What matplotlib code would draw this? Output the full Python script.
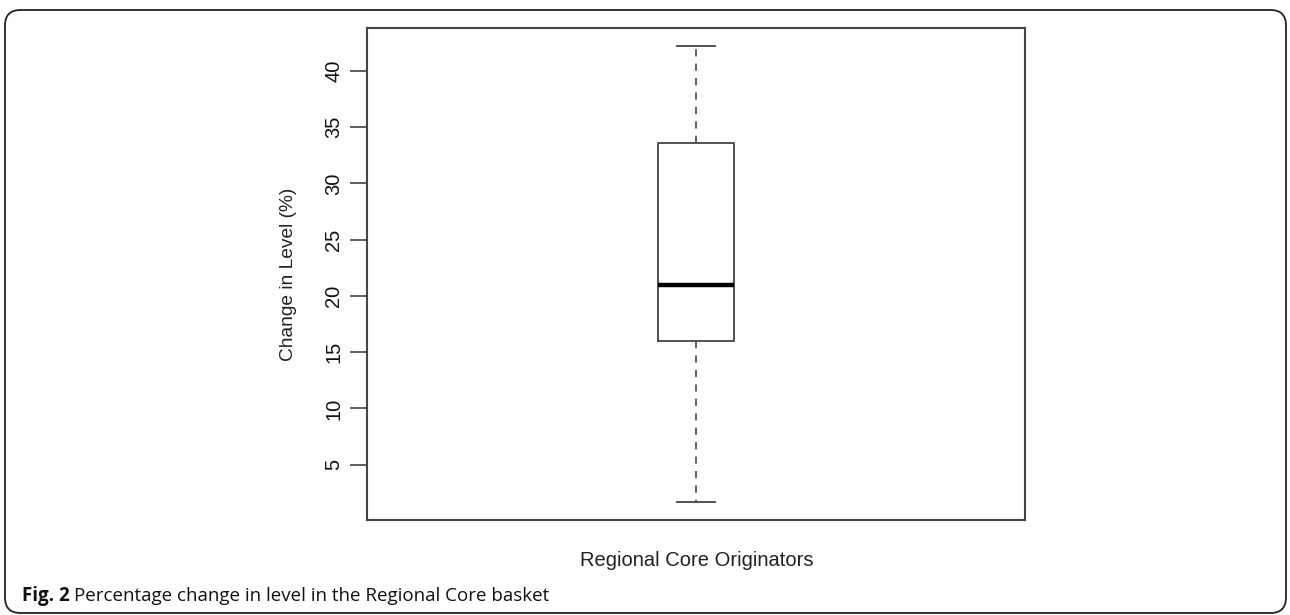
import matplotlib
matplotlib.use("Agg")
import matplotlib.pyplot as plt
from matplotlib.patches import FancyBboxPatch

# summary stats (percent)
group_label = "Regional Core Originators"
whisker_lo = 1.7
q1 = 16.0
median = 21.0
q3 = 33.6
whisker_hi = 42.2
yticks = [5, 10, 15, 20, 25, 30, 35, 40]

fig = plt.figure(figsize=(12.9, 6.15), dpi=100)

# rounded outer frame of the journal figure
frame = FancyBboxPatch((5 / 1290, 2 / 615), 1281 / 1290, 1.0 - 12 / 615,
                       boxstyle="round,pad=0,rounding_size=0.012",
                       transform=fig.transFigure, fill=False, ec="#222222", lw=1.3,
                       mutation_aspect=1290 / 615)
fig.patches.append(frame)

ax = fig.add_axes([367 / 1290, 1 - 520 / 615, 658 / 1290, 492 / 615])
stats = [dict(whislo=whisker_lo, q1=q1, med=median, q3=q3, whishi=whisker_hi, fliers=[])]
ax.bxp(stats, positions=[1], widths=0.116, showfliers=False,
       boxprops=dict(color="#444444", lw=1.3),
       whiskerprops=dict(color="#555555", lw=1.3, ls=(0, (4, 4))),
       capprops=dict(color="#444444", lw=1.3),
       medianprops=dict(color="black", lw=3.2))
ax.set_xlim(0.5, 1.5)
ax.set_ylim(0.08, 43.82)
ax.set_xticks([])
ax.set_yticks(yticks)
ax.set_yticklabels([str(t) for t in yticks], rotation=90, va="center",
                   family="Liberation Sans", fontsize=14.5, color="#111111")
ax.tick_params(axis="y", length=12, width=1.2, color="#444444", pad=5)
for s in ax.spines.values():
    s.set_color("#444444")
    s.set_linewidth(1.5)

ax.set_ylabel("Change in Level (%)", family="Liberation Sans", fontsize=13.8,
              color="#222222", labelpad=20)
fig.text(697 / 1290, 1 - 560 / 615, group_label, ha="center", va="center",
         family="Liberation Sans", fontsize=14.5, color="#222222")

fig.text(22 / 1290, 1 - 601 / 615, "Fig. 2", ha="left", va="baseline",
         family="Open Sans", fontweight="bold", fontsize=13.5, color="#111111")
fig.text(74 / 1290, 1 - 601 / 615, "Percentage change in level in the Regional Core basket",
         ha="left", va="baseline", family="Open Sans", fontsize=13.5, color="#111111")

fig.savefig("out.png", dpi=100)
